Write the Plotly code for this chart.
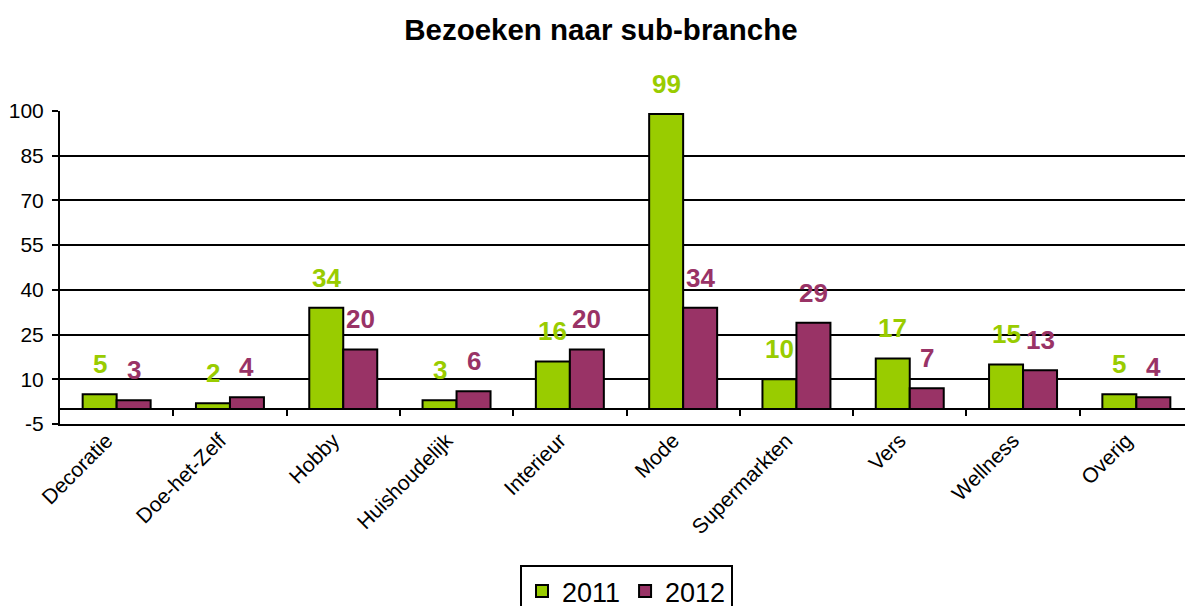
import plotly.graph_objects as go

# data
categories = ['Decoratie', 'Doe-het-Zelf', 'Hobby', 'Huishoudelijk', 'Interieur',
              'Mode', 'Supermarkten', 'Vers', 'Wellness', 'Overig']
v2011 = [5, 2, 34, 3, 16, 99, 10, 17, 15, 5]
v2012 = [3, 4, 20, 6, 20, 34, 29, 7, 13, 4]
y_ticks = [-5, 10, 25, 40, 55, 70, 85, 100]

green = '#99CC00'
purple = '#993366'
font = 'Liberation Sans, Arial, sans-serif'

fig = go.Figure()
series = [('2011', v2011, green, -17), ('2012', v2012, purple, 17)]
for name, vals, col, shift in series:
    fig.add_trace(go.Bar(
        x=categories, y=vals, name=name,
        marker=dict(color=col, line=dict(color='black', width=2)),
    ))
    # value labels, a bit higher above the bars than plotly's own outside text
    for cat, v in zip(categories, vals):
        fig.add_annotation(x=cat, y=v, text=f'<b>{v}</b>', showarrow=False,
                           xanchor='center', yanchor='bottom', xshift=shift, yshift=13,
                           font=dict(color=col, size=26, family=font))

# tick marks between categories on the zero line
fig.add_trace(go.Scatter(x=[None], y=[None], xaxis='x2', showlegend=False))

# note: page body has an 8px margin, so the layout is shifted up/left by that
fig.update_layout(
    width=1193, height=606,
    paper_bgcolor='white', plot_bgcolor='white',
    font=dict(family=font, color='black', size=21),
    title=dict(text='<b>Bezoeken naar sub-branche</b>', x=0.497, y=0.964,
               xanchor='center', yanchor='middle', font=dict(size=29.5)),
    margin=dict(l=52, r=8, t=103, b=190),
    barmode='group', bargap=0.4, bargroupgap=0,
    xaxis=dict(type='category', showline=True, linecolor='black', linewidth=2,
               ticks='', tickangle=-45, tickfont=dict(size=21), automargin=False,
               ticklabelshift=-10, ticklabelstandoff=-6,
               showgrid=False, range=[-0.5, len(categories) - 0.5]),
    xaxis2=dict(overlaying='x', anchor='free', position=5 / 105,
                range=[-0.5, len(categories) - 0.5], automargin=False,
                tickvals=[i + 0.5 for i in range(len(categories) - 1)],
                ticks='outside', ticklen=6, tickwidth=2, tickcolor='black',
                showticklabels=False, showgrid=False, showline=False, zeroline=False),
    yaxis=dict(range=[-5, 100], tickvals=y_ticks, ticktext=[str(t) for t in y_ticks],
               showgrid=True, gridcolor='black', automargin=False,
               gridwidth=2, zeroline=True, zerolinecolor='black', zerolinewidth=2,
               showline=True, linecolor='black', linewidth=2, ticks='outside',
               ticklen=6, tickwidth=2, tickcolor='black', tickfont=dict(size=21),
               ticklabelstandoff=4),
    legend=dict(orientation='h', x=0.5, xanchor='center', xref='paper',
                y=1 - 557 / 606, yanchor='top', yref='container',
                bordercolor='black', borderwidth=2, font=dict(size=27),
                itemwidth=30, tracegroupgap=0),
)

fig.write_html('out.html')
